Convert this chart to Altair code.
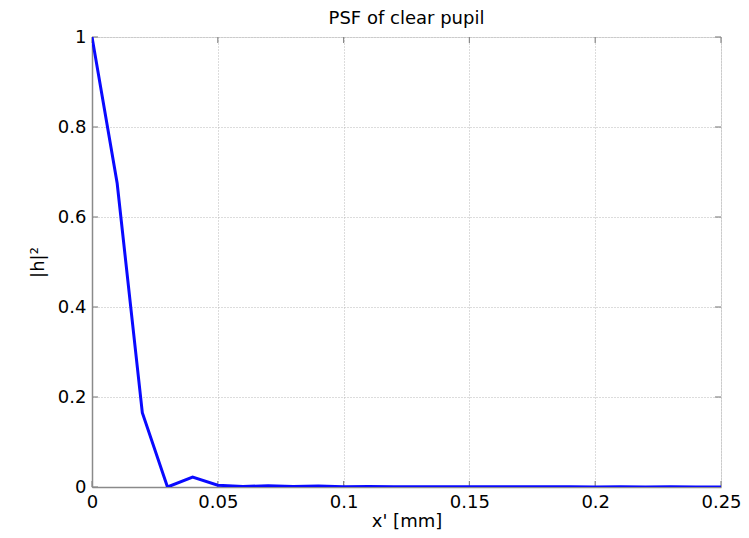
import altair as alt
import pandas as pd

x_vals = [0.00, 0.01, 0.02, 0.03, 0.04, 0.05, 0.06, 0.07, 0.08, 0.09,
          0.10, 0.11, 0.12, 0.13, 0.14, 0.15, 0.16, 0.17, 0.18, 0.19,
          0.20, 0.21, 0.22, 0.23, 0.24, 0.25]
psf_vals = [1.0, 0.675, 0.165, 0.0, 0.022, 0.004, 0.001, 0.003, 0.001, 0.002,
            0.0005, 0.001, 0.0005, 0.0008, 0.0004, 0.0006, 0.0003, 0.0005, 0.0003, 0.0004,
            0.0002, 0.0003, 0.0002, 0.0003, 0.0002, 0.0002]
x_ticks = [0, 0.05, 0.1, 0.15, 0.2, 0.25]
y_ticks = [0, 0.2, 0.4, 0.6, 0.8, 1.0]

df = pd.DataFrame({"x": x_vals, "h2": psf_vals})
xt = pd.DataFrame({"t": x_ticks})
yt = pd.DataFrame({"t": y_ticks})

FONT = "DejaVu Sans"
W, H = 629, 450
TL = 6
GRAY = "#8a8a8a"

xs = alt.Scale(domain=[0, 0.25], nice=False, zero=False)
ys = alt.Scale(domain=[0, 1], nice=False)

main = alt.Chart(df).mark_line(color="#0a0aff", strokeWidth=3, clip=True).encode(
    x=alt.X("x:Q", scale=xs,
            axis=alt.Axis(values=x_ticks, format="~g", title="x' [mm]",
                          labelFont=FONT, titleFont=FONT,
                          labelFontSize=18, titleFontSize=18, labelPadding=6,
                          titlePadding=1, ticks=False, labelFlush=False,
                          titleFontWeight="normal", labelColor="black", titleColor="black",
                          grid=True, gridColor="#b8b8b8", gridDash=[1, 2],
                          domainColor=GRAY, domainWidth=1.5)),
    y=alt.Y("h2:Q", scale=ys,
            axis=alt.Axis(values=y_ticks, format="~g", title="|h|²",
                          labelFont=FONT, titleFont=FONT,
                          labelFontSize=18, titleFontSize=18, labelPadding=6,
                          titlePadding=10, ticks=False, labelFlush=False,
                          titleFontWeight="normal", labelColor="black", titleColor="black",
                          grid=True, gridColor="#b8b8b8", gridDash=[1, 2],
                          domainColor=GRAY, domainWidth=1.5)),
)

tick_style = dict(color=GRAY, strokeWidth=1.2)
bottom_ticks = alt.Chart(xt).mark_rule(**tick_style).encode(
    x=alt.X("t:Q", scale=xs), y=alt.value(H), y2=alt.value(H - TL))
top_ticks = alt.Chart(xt).mark_rule(**tick_style).encode(
    x=alt.X("t:Q", scale=xs), y=alt.value(0), y2=alt.value(TL))
left_ticks = alt.Chart(yt).mark_rule(**tick_style).encode(
    y=alt.Y("t:Q", scale=ys), x=alt.value(0), x2=alt.value(TL))
right_ticks = alt.Chart(yt).mark_rule(**tick_style).encode(
    y=alt.Y("t:Q", scale=ys), x=alt.value(W), x2=alt.value(W - TL))

chart = alt.layer(
    bottom_ticks, top_ticks, left_ticks, right_ticks, main
).properties(
    width=W,
    height=H,
    title=alt.TitleParams("PSF of clear pupil", fontSize=18, fontWeight="normal",
                          font=FONT, color="black", offset=0, frame="group"),
    autosize=alt.AutoSizeParams(type="none"),
    padding={"left": 84, "top": 29, "right": 20, "bottom": 43},
).configure_view(
    stroke=GRAY, strokeWidth=1.5,
).configure(background="white")

chart.save("out.html", embed_options={"renderer": "svg", "actions": False})
